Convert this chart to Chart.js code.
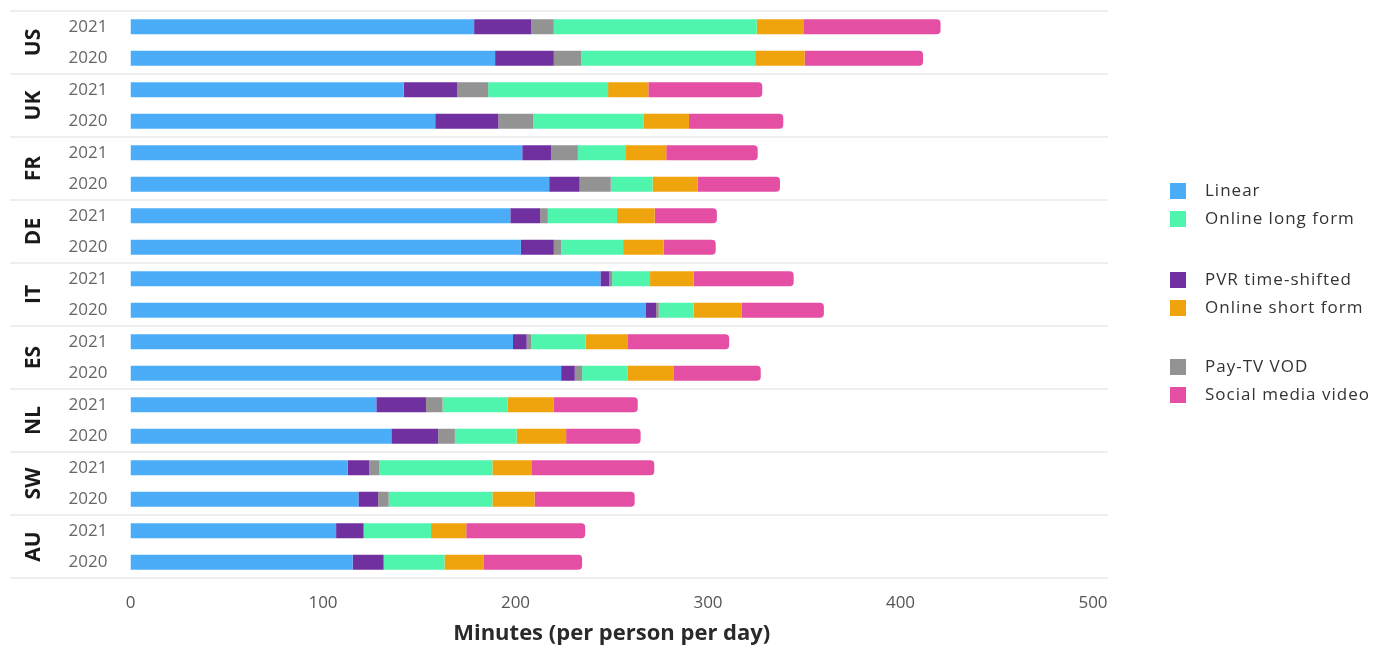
<!DOCTYPE html>
<html>
<head>
<meta charset="utf-8">
<script src="https://cdn.jsdelivr.net/npm/chart.js@4.4.0/dist/chart.umd.min.js"></script>
<style>
  html, body { margin: 0; padding: 0; background: #fff; }
  #wrap { position: relative; width: 1375px; height: 645px; overflow: hidden; }
  #chart { position: absolute; left: 0; top: 0; }
  .lg { position: absolute; left: 1170px; height: 22px; font-family: 'Open Sans', sans-serif; font-size: 17px; color: #333; white-space: nowrap; letter-spacing: 1px; }
  .lg i { position: absolute; left: 0; top: 4px; width: 16px; height: 16px; }
  .lg span { position: absolute; left: 35px; top: 0; line-height: 22px; }
</style>
</head>
<body>
<div id="wrap">
  <canvas id="chart" width="1375" height="645"></canvas>
  <div id="legend"></div>
</div>
<script>
// Daily video minutes per person, by country and year
const countries = ['US', 'UK', 'FR', 'DE', 'IT', 'ES', 'NL', 'SW', 'AU'];
const years = ['2021', '2020'];

// One value per country/year row, in the order US 2021, US 2020, UK 2021, ...
const linear = [178.5, 189.4, 141.9, 158.3, 203.5, 217.5, 197.3, 202.8, 244.1, 267.5, 198.7, 223.7, 127.7, 135.5, 112.9, 118.4, 106.8, 115.4];
const pvrTimeShifted = [29.7, 30.5, 27.9, 32.8, 15.0, 15.8, 15.5, 17.1, 4.7, 5.5, 7.1, 7.1, 25.8, 24.3, 11.2, 10.2, 14.3, 16.1];
const payTvVod = [11.7, 14.2, 16.0, 18.0, 13.9, 16.2, 4.0, 3.8, 1.4, 1.4, 2.4, 3.8, 8.6, 8.7, 5.2, 5.5, 0, 0];
const onlineLongForm = [105.4, 90.4, 62.3, 57.6, 25.0, 21.7, 35.9, 32.2, 19.7, 18.1, 28.2, 23.5, 33.7, 32.1, 58.7, 53.9, 35.0, 31.6];
const onlineShortForm = [24.2, 25.7, 20.9, 23.4, 20.9, 23.5, 19.6, 21.0, 22.6, 24.9, 21.7, 24.2, 24.1, 25.7, 20.2, 21.9, 18.3, 20.2];
const socialMediaVideo = [71.3, 61.5, 59.2, 49.0, 47.5, 42.7, 32.3, 27.1, 52.0, 42.8, 52.9, 45.1, 43.6, 38.7, 63.9, 52.0, 61.8, 51.3];

const xTicks = [0, 100, 200, 300, 400, 500];

// Row labels: each country gets a 2021 row and a 2020 row
const rowLabels = [];
countries.forEach(() => years.forEach(y => rowLabels.push(y)));

const FONT = "'Open Sans', sans-serif";

const series = [
  { label: 'Linear', data: linear, color: '#4bacf7' },
  { label: 'PVR time-shifted', data: pvrTimeShifted, color: '#7030a0' },
  { label: 'Pay-TV VOD', data: payTvVod, color: '#939393' },
  { label: 'Online long form', data: onlineLongForm, color: '#50f5ad' },
  { label: 'Online short form', data: onlineShortForm, color: '#efa30c' },
  { label: 'Social media video', data: socialMediaVideo, color: '#e44fa3' }
];

// Legend layout: three pairs of entries
const legendRows = [
  ['Linear', 190], ['Online long form', 218],
  ['PVR time-shifted', 279], ['Online short form', 307],
  ['Pay-TV VOD', 366], ['Social media video', 394]
];
const legendEl = document.getElementById('legend');
legendRows.forEach(([name, cy]) => {
  const s = series.find(d => d.label === name);
  const div = document.createElement('div');
  div.className = 'lg';
  div.style.top = (cy - 11) + 'px';
  div.innerHTML = '<i style="background:' + s.color + '"></i><span>' + name + '</span>';
  legendEl.appendChild(div);
});

// Country names and group separators on the category axis
const groupPlugin = {
  id: 'groups',
  beforeDatasetsDraw(chart) {
    const { ctx } = chart;
    const y = chart.scales.y;
    const half = (y.getPixelForValue(1) - y.getPixelForValue(0)) / 2;
    ctx.save();
    ctx.strokeStyle = '#e8e8e8';
    ctx.lineWidth = 1.5;
    for (let g = 0; g <= countries.length; g++) {
      const py = g < countries.length ? y.getPixelForValue(g * 2) - half : y.getPixelForValue(g * 2 - 1) + half;
      ctx.beginPath();
      ctx.moveTo(10, py);
      ctx.lineTo(chart.chartArea.right + 15, py);
      ctx.stroke();
    }
    ctx.restore();
  },
  afterDraw(chart) {
    const { ctx } = chart;
    const y = chart.scales.y;
    ctx.save();
    ctx.fillStyle = '#1a1a1a';
    ctx.font = 'bold 21px ' + FONT;
    ctx.textAlign = 'center';
    ctx.textBaseline = 'middle';
    countries.forEach((c, g) => {
      const cy = (y.getPixelForValue(g * 2) + y.getPixelForValue(g * 2 + 1)) / 2;
      ctx.save();
      ctx.translate(34, cy);
      ctx.rotate(-Math.PI / 2);
      ctx.fillText(c, 0, 0);
      ctx.restore();
    });
    ctx.restore();
  }
};

new Chart(document.getElementById('chart'), {
  type: 'bar',
  data: {
    labels: rowLabels,
    datasets: series.map((s, i) => ({
      label: s.label,
      data: s.data,
      backgroundColor: s.color,
      borderWidth: 0,
      borderRadius: i === series.length - 1 ? 4 : 0,
      borderSkipped: 'start',
      categoryPercentage: 1,
      barPercentage: 0.48
    }))
  },
  options: {
    indexAxis: 'y',
    responsive: false,
    animation: false,
    layout: { padding: { top: 11, right: 282, left: 0, bottom: 0 } },
    plugins: {
      legend: { display: false },
      tooltip: { enabled: false }
    },
    scales: {
      x: {
        stacked: true,
        min: 0,
        max: 500,
        afterBuildTicks(scale) { scale.ticks = xTicks.map(v => ({ value: v })); },
        grid: { display: false },
        border: { display: false },
        ticks: { color: '#555', font: { family: FONT, size: 17 }, padding: 7 },
        title: {
          display: true,
          text: 'Minutes (per person per day)',
          color: '#2a2a2a',
          font: { family: FONT, size: 22, weight: 'bold' },
          padding: { top: 2, bottom: -2 }
        },
        afterFit(scale) { scale.height = 67; scale.paddingLeft = 0; scale.paddingRight = 0; }
      },
      y: {
        stacked: true,
        grid: { display: false },
        border: { display: false },
        ticks: { color: '#666', font: { family: FONT, size: 17 }, padding: 15, autoSkip: false },
        afterFit(scale) { scale.width = 130.5; scale.paddingTop = 0; scale.paddingBottom = 0; }
      }
    }
  },
  plugins: [groupPlugin]
});
</script>
</body>
</html>
